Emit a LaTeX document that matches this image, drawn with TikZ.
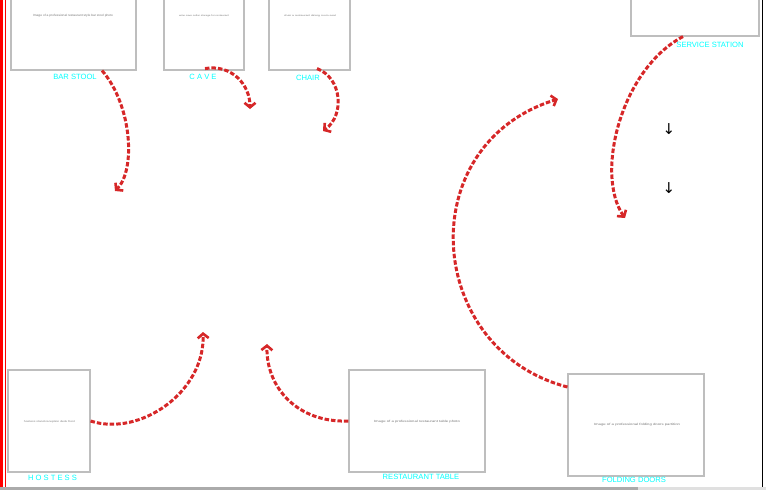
\documentclass[tikz,border=0pt]{standalone}
\usepackage{fontspec}
\usepackage{graphicx}
\setmainfont{Liberation Sans}
\newfontfamily\symfont{DejaVu Sans}
\usetikzlibrary{arrows.meta}
\definecolor{flowred}{RGB}{214,39,40}
\definecolor{labelcyan}{RGB}{0,255,255}
\definecolor{boxgray}{RGB}{190,190,190}
\definecolor{tinygray}{RGB}{120,120,120}
\tikzset{
  itembox/.style={draw=boxgray, line width=1.1pt, fill=white, inner sep=0pt},
  itemlabel/.style={text=labelcyan, font=\fontsize{7.6}{8}\selectfont, inner sep=0pt},
  tinytext/.style={text=tinygray, font=\fontsize{3}{3}\selectfont, inner sep=0pt},
  flow/.style={draw=flowred, line width=3pt, dash pattern=on 4.5pt off 2pt,
    -{Straight Barb[length=4.5pt,width=11pt,line width=2.6pt]}},
  downmark/.style={font=\symfont\fontsize{15}{15}\selectfont, inner sep=0pt}
}
\begin{document}
\begin{tikzpicture}[x=1pt,y=-1pt]
\useasboundingbox (0,0) rectangle (766,490);
\clip (0,0) rectangle (766,490);
% frame lines
\fill[red] (0,0) rectangle (3.4,490);
\fill[red] (5,0) rectangle (6.4,490);
\draw[black, line width=1pt] (762,0) -- (762,487);
\fill[black!33] (0,487) rectangle (638,490);
\fill[black!12] (638,487) rectangle (766,490);
% boxes
\node[itembox, minimum width=125pt, minimum height=108pt] (barstool) at (73.5,16) {};
\node[itembox, minimum width=80pt, minimum height=108pt] (cave) at (204,16) {};
\node[itembox, minimum width=81pt, minimum height=108pt] (chair) at (309.5,16) {};
\node[itembox, minimum width=128pt, minimum height=96pt] (service) at (695,-12) {};
\node[itembox, minimum width=82pt, minimum height=102pt] (hostess) at (49,421) {};
\node[itembox, minimum width=136pt, minimum height=102pt] (table) at (417,421) {};
\node[itembox, minimum width=136pt, minimum height=102pt] (folding) at (636,425) {};
% tiny captions inside boxes
\node[tinytext] (tbar) at (73,16) {\resizebox{80pt}{2.2pt}{Image of a professional restaurant style bar stool photo}};
\node[tinytext] (tcave) at (204,16) {\resizebox{50pt}{1.6pt}{wine cave cellar storage for restaurant}};
\node[tinytext] (tchair) at (310,16) {\resizebox{52pt}{1.6pt}{chair a restaurant dining room seat}};
\node[tinytext] (thost) at (49.5,422) {\resizebox{51pt}{1.8pt}{hostess stand reception desk front}};
\node[tinytext] (ttable) at (417,422) {\resizebox{86pt}{2.2pt}{Image of a professional restaurant table photo}};
\node[tinytext] (tfold) at (637,425) {\resizebox{86pt}{2.2pt}{Image of a professional folding doors partition}};
% labels
\node[itemlabel] (lbar) at (75,77) {BAR STOOL};
\node[itemlabel] (lcave) at (203,77) {C A V E};
\node[itemlabel] (lchair) at (308,78) {CHAIR};
\node[itemlabel] (lservice) at (710,44.5) {SERVICE STATION};
\node[itemlabel] (lhost) at (52.5,478) {H O S T E S S};
\node[itemlabel] (ltable) at (421,477) {RESTAURANT TABLE};
\node[itemlabel] (lfold) at (634,480) {FOLDING DOORS};
% down arrows
\node[downmark] (d1) at (669,129) {↓};
\node[downmark] (d2) at (669,188) {↓};
% free ends
\coordinate (e1) at (115,191);
\coordinate (e2) at (250,109);
\coordinate (e3) at (323,131);
\coordinate (e4) at (625,218);
\coordinate (e5) at (558,99);
\coordinate (e6) at (203,332);
\coordinate (e7) at (267,344);
% connectors
\draw[flow] ([xshift=28.5pt]barstool.south) .. controls (132,105) and (136,170) .. (e1);
\draw[flow] ([xshift=1pt,yshift=2pt]cave.south) .. controls (232,64) and (250,85) .. (e2);
\draw[flow] ([xshift=7.5pt,yshift=2pt]chair.south) .. controls (342,78) and (345,115) .. (e3);
\draw[flow] ([xshift=-12pt]service.south) .. controls (620,70) and (595,175) .. (e4);
\draw[flow] ([yshift=38pt]folding.west) .. controls (425,350) and (410,145) .. (e5);
\draw[flow] (hostess.east) .. controls (140,437) and (205,392) .. (e6);
\draw[flow] (table.west) .. controls (298,423) and (266,388) .. (e7);
\end{tikzpicture}
\end{document}
